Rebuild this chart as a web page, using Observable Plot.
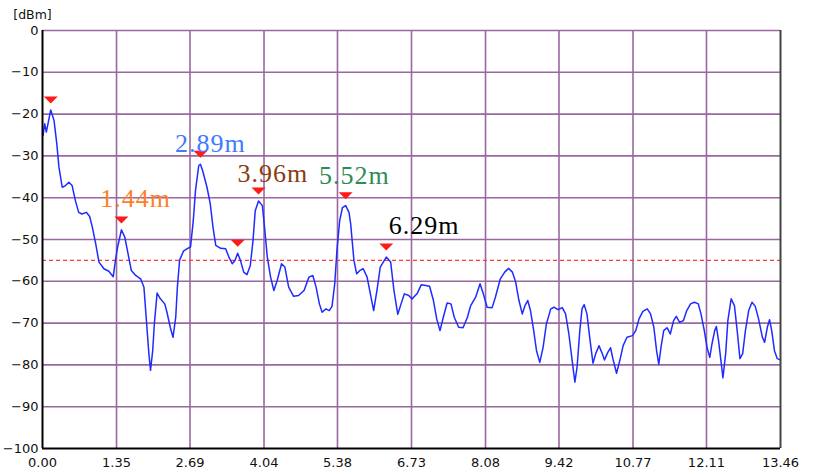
<!DOCTYPE html>
<html><head><meta charset="utf-8">
<script src="https://cdn.jsdelivr.net/npm/d3@7"></script>
<script src="https://cdn.jsdelivr.net/npm/@observablehq/plot@0.6"></script>
<style>
body{margin:0;background:#fff}
g[font-family="Liberation Serif"] text{letter-spacing:1px}
</style>
</head><body><div id="chart"></div>
<script>
// distance (m)
const distance = [0.01,0.04,0.07,0.15,0.21,0.26,0.30,0.36,0.42,0.48,0.54,0.60,0.66,0.72,0.80,0.86,0.91,0.97,1.03,1.12,1.21,1.29,1.33,1.37,1.44,1.50,1.56,1.62,1.70,1.79,1.85,1.90,1.94,1.97,2.01,2.04,2.09,2.15,2.23,2.27,2.33,2.38,2.43,2.46,2.50,2.57,2.64,2.70,2.75,2.79,2.85,2.88,2.92,3.00,3.06,3.11,3.16,3.25,3.34,3.40,3.46,3.51,3.56,3.61,3.67,3.73,3.79,3.84,3.88,3.94,4.01,4.05,4.10,4.16,4.22,4.28,4.36,4.42,4.49,4.58,4.67,4.77,4.86,4.93,4.99,5.05,5.10,5.17,5.23,5.28,5.33,5.37,5.42,5.47,5.53,5.59,5.62,5.68,5.73,5.79,5.85,5.92,5.98,6.04,6.10,6.16,6.27,6.35,6.41,6.48,6.54,6.60,6.68,6.74,6.83,6.91,6.99,7.06,7.13,7.19,7.25,7.31,7.38,7.45,7.51,7.59,7.67,7.75,7.81,7.90,7.98,8.04,8.11,8.20,8.26,8.35,8.43,8.50,8.57,8.63,8.69,8.75,8.80,8.85,8.90,8.95,9.01,9.07,9.13,9.19,9.27,9.33,9.40,9.48,9.54,9.60,9.66,9.71,9.75,9.80,9.84,9.88,9.93,9.98,10.04,10.09,10.15,10.20,10.25,10.31,10.36,10.41,10.47,10.53,10.59,10.66,10.76,10.82,10.88,10.95,11.03,11.09,11.15,11.20,11.24,11.28,11.33,11.39,11.45,11.51,11.56,11.62,11.69,11.75,11.82,11.89,11.96,12.01,12.07,12.12,12.17,12.21,12.26,12.29,12.33,12.38,12.41,12.46,12.50,12.56,12.62,12.67,12.72,12.77,12.82,12.88,12.94,13.00,13.06,13.13,13.17,13.22,13.26,13.30,13.35,13.40,13.46];
// level (dBm)
const level = [-25.1,-22.3,-24.3,-19.0,-21.5,-27.0,-32.7,-37.5,-37.1,-36.3,-37.1,-40.7,-43.5,-43.9,-43.5,-44.5,-47.1,-51.0,-55.4,-57.0,-57.6,-58.9,-55.0,-51.8,-47.7,-49.4,-53.4,-57.4,-58.6,-59.4,-61.4,-70.2,-77.3,-81.3,-76.6,-70.2,-62.8,-64.2,-65.4,-67.4,-71.0,-73.4,-68.6,-61.4,-55.0,-52.8,-52.2,-51.8,-45.5,-38.3,-32.3,-32.0,-33.5,-37.5,-41.5,-47.1,-51.4,-52.1,-52.2,-54.2,-55.8,-55.0,-53.3,-55.0,-57.8,-58.4,-56.2,-50.2,-43.1,-40.8,-41.9,-47.1,-54.2,-59.0,-62.2,-59.8,-55.8,-56.6,-61.4,-63.6,-63.4,-62.2,-59.0,-58.6,-61.4,-65.4,-67.4,-66.6,-67.0,-66.0,-60.6,-52.6,-45.5,-42.4,-41.9,-43.5,-46.2,-55.0,-58.2,-57.4,-57.0,-59.0,-63.0,-67.0,-62.2,-56.6,-54.2,-55.4,-62.2,-67.9,-65.4,-63.0,-63.4,-64.2,-63.0,-60.8,-61.0,-61.2,-64.6,-69.0,-71.8,-68.6,-65.2,-65.4,-68.6,-71.0,-71.1,-68.6,-65.8,-63.8,-60.6,-63.0,-66.2,-66.3,-63.8,-59.4,-57.8,-56.9,-57.8,-60.2,-64.6,-67.8,-65.8,-64.6,-67.0,-71.0,-76.6,-79.4,-75.8,-70.2,-66.6,-66.2,-66.8,-66.3,-67.8,-72.6,-78.9,-84.1,-80.5,-71.8,-66.6,-65.6,-67.8,-73.4,-79.6,-77.3,-75.4,-77.0,-78.8,-77.0,-75.9,-78.9,-82.0,-78.9,-75.4,-73.4,-73.0,-71.8,-69.0,-67.2,-66.6,-67.8,-71.0,-76.6,-79.9,-75.8,-71.8,-71.1,-72.6,-69.4,-68.4,-69.8,-69.4,-67.0,-65.4,-65.0,-65.4,-67.8,-71.8,-75.8,-78.2,-75.0,-71.8,-70.8,-74.2,-79.7,-83.1,-77.3,-69.4,-64.2,-65.8,-71.8,-78.5,-77.3,-71.8,-67.0,-65.0,-66.0,-69.0,-73.4,-74.6,-71.0,-69.2,-71.8,-76.6,-78.5,-78.8];

const markerDist = [0.15,1.44,2.88,3.56,3.94,5.53,6.27];
const markerLevel = [-19.0,-47.7,-32.0,-53.3,-40.8,-41.9,-54.2];

const labelText = ["1.44m","2.89m","3.96m","5.52m","6.29m"];
const labelDist = [1.70,3.06,4.20,5.69,6.96];
const labelLevel = [-40.2,-27.0,-34.2,-34.7,-46.7];

const threshold = -55;
const xTicks = [0.00,1.35,2.69,4.04,5.38,6.73,8.08,9.42,10.77,12.11,13.46];
const xTickLabels = ["0.00","1.35","2.69","4.04","5.38","6.73","8.08","9.42","10.77","12.11","13.46"];
const yTicks = [0,-10,-20,-30,-40,-50,-60,-70,-80,-90,-100];

const trace = distance.map((d, i) => ({d, v: level[i]}));
const markers = markerDist.map((d, i) => ({d, v: markerLevel[i]}));
const labels = labelText.map((t, i) => ({t, d: labelDist[i], v: labelLevel[i], i}));
const labelColors = ["#ff7f27", "#3f7bff", "#8b3a10", "#2e8b57", "#000000"];

const flatTriangle = {
  draw(ctx, size) {
    const w = Math.sqrt(size / Math.PI);
    ctx.moveTo(-w * 1.4, -w * 0.7);
    ctx.lineTo(w * 1.4, -w * 0.7);
    ctx.lineTo(0, w * 0.7);
    ctx.closePath();
  }
};

const grid = "#9b67a1";

const chart = Plot.plot({
  width: 815,
  height: 470,
  marginLeft: 42,
  marginRight: 35,
  marginTop: 30,
  marginBottom: 22,
  style: {fontFamily: "DejaVu Sans", fontSize: "13px", color: "#111", background: "#fff"},
  x: {domain: [0, 13.46]},
  y: {domain: [-100, 0]},
  marks: [
    Plot.ruleY(yTicks.filter(t => t > -100), {stroke: grid, strokeWidth: 1.6}),
    Plot.ruleX(xTicks.filter(t => t > 0 && t < 13.46), {stroke: grid, strokeWidth: 1.6}),
    Plot.ruleY([threshold], {stroke: "#ff3b3b", strokeWidth: 1.2, strokeDasharray: "4,3"}),
    Plot.line(trace, {x: "d", y: "v", stroke: "#1f2bff", strokeWidth: 1.5}),
    Plot.dot(markers, {x: "d", y: "v", symbol: flatTriangle, r: 5, fill: "#ff1a1a", stroke: null, dy: -10}),
    Plot.text(labels, {x: "d", y: "v", text: "t", fill: (d) => labelColors[d.i], fontFamily: "Liberation Serif", fontSize: 26}),
    Plot.ruleX([13.46], {stroke: "#444", strokeWidth: 2}),
    Plot.ruleX([0], {stroke: "#000", strokeWidth: 2}),
    Plot.ruleY([-100], {stroke: "#000", strokeWidth: 2}),
    Plot.axisX({ticks: xTicks, tickFormat: (d, i) => xTickLabels[i], tickSize: 0, tickPadding: 9, label: null}),
    Plot.axisY({ticks: yTicks, tickSize: 0, tickPadding: 4, label: null}),
    Plot.text(["[dBm]"], {frameAnchor: "top-left", dx: -10, dy: -20, textAnchor: "middle", fontSize: 12.5})
  ]
});
document.getElementById("chart").appendChild(chart);
</script>
</body></html>
